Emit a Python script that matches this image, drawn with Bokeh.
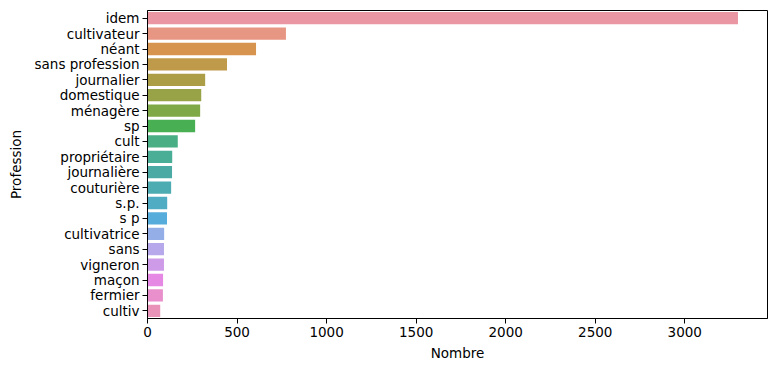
import math
import colorsys
from bokeh.plotting import figure
from bokeh.models import ColumnDataSource, Range1d, FactorRange, FixedTicker
from bokeh.embed import file_html
from bokeh.resources import INLINE

# ---- data ----
professions = ["idem", "cultivateur", "néant", "sans profession", "journalier",
               "domestique", "ménagère", "sp", "cult", "propriétaire",
               "journalière", "couturière", "s.p.", "s p", "cultivatrice",
               "sans", "vigneron", "maçon", "fermier", "cultiv"]
counts = [3297, 773, 606, 444, 322, 300, 294, 266, 169, 138,
          137, 132, 110, 109, 93, 92, 92, 87, 86, 71]
x_ticks = [0, 500, 1000, 1500, 2000, 2500, 3000]

# ---- seaborn-like husl palette (l=.7, desaturated 0.75) ----
_m = [[3.2406, -1.5372, -0.4986],
      [-0.9689, 1.8758, 0.0415],
      [0.0557, -0.2040, 1.0570]]
_refU, _refV = 0.19784, 0.46834
_lab_e, _lab_k = 0.008856, 903.3


def _max_chroma(L, H):
    hrad = math.radians(H)
    sinH, cosH = math.sin(hrad), math.cos(hrad)
    sub1 = (L + 16) ** 3 / 1560896.0
    sub2 = sub1 if sub1 > _lab_e else L / _lab_k
    result = float("inf")
    for m1, m2, m3 in _m:
        top = (0.99915 * m1 + 1.05122 * m2 + 1.14460 * m3) * sub2
        rbottom = 0.86330 * m3 - 0.17266 * m2
        lbottom = 0.12949 * m3 - 0.38848 * m1
        bottom = (rbottom * sinH + lbottom * cosH) * sub2
        for t in (0.0, 1.0):
            C = L * (top - 1.05122 * t) / (bottom + 0.17266 * sinH * t)
            if 0.0 < C < result:
                result = C
    return result


def _from_linear(c):
    if c <= 0.0031308:
        return 12.92 * c
    return 1.055 * c ** (1 / 2.4) - 0.055


def husl_to_rgb(H, S, L):
    C = _max_chroma(L, H) / 100.0 * S
    hrad = math.radians(H)
    U, V = math.cos(hrad) * C, math.sin(hrad) * C
    t = (L + 16) / 116.0
    varY = t ** 3 if t ** 3 > _lab_e else (116 * t - 16) / _lab_k
    varU = U / (13 * L) + _refU
    varV = V / (13 * L) + _refV
    Y = varY
    X = 0 - (9 * Y * varU) / ((varU - 4) * varV - varU * varV)
    Z = (9 * Y - 15 * varV * Y - varV * X) / (3 * varV)
    rgb = [_from_linear(r[0] * X + r[1] * Y + r[2] * Z) for r in _m]
    return [min(1.0, max(0.0, c)) for c in rgb]


def palette(n, h=0.01, s=0.9, l=0.7, sat=0.75):
    out = []
    for i in range(n):
        hue = ((i / n) + h) % 1 * 359
        r, g, b = husl_to_rgb(hue, s * 99, l * 99)
        hh, ll, ss = colorsys.rgb_to_hls(r, g, b)
        r, g, b = colorsys.hls_to_rgb(hh, ll, ss * sat)
        out.append("#%02x%02x%02x" % (round(r * 255), round(g * 255), round(b * 255)))
    return out


colors = palette(len(professions))

source = ColumnDataSource(dict(prof=professions, n=counts, color=colors))

FONT = "DejaVu Sans"
FS = "13.5px"

p = figure(width=769, height=363,
           y_range=FactorRange(factors=list(reversed(professions))),
           x_range=Range1d(0, max(counts) * 1.05),
           output_backend="svg", toolbar_location=None,
           min_border_left=147, min_border_right=2,
           min_border_top=10, min_border_bottom=45)

p.hbar(y="prof", right="n", left=0, height=0.8, fill_color="color",
       line_color=None, source=source)

p.xaxis.ticker = FixedTicker(ticks=x_ticks)
p.xaxis.axis_label = "Nombre"
p.yaxis.axis_label = "Profession"

for ax in (p.xaxis, p.yaxis):
    ax.axis_label_text_font = FONT
    ax.axis_label_text_font_size = FS
    ax.axis_label_text_font_style = "normal"
    ax.axis_label_text_color = "black"
    ax.major_label_text_font = FONT
    ax.major_label_text_font_size = FS
    ax.major_label_text_color = "black"
    ax.axis_line_color = "black"
    ax.axis_line_width = 1
    ax.major_tick_line_color = "black"
    ax.major_tick_in = 0
    ax.major_tick_out = 5
    ax.minor_tick_line_color = None
    ax.major_label_standoff = 3
    ax.axis_label_standoff = 5

p.yaxis.axis_label_standoff = 8

p.xgrid.grid_line_color = None
p.ygrid.grid_line_color = None
p.outline_line_color = "black"
p.outline_line_width = 1
p.background_fill_color = "white"
p.border_fill_color = "white"

open("out.html", "w").write(file_html(p, INLINE))
